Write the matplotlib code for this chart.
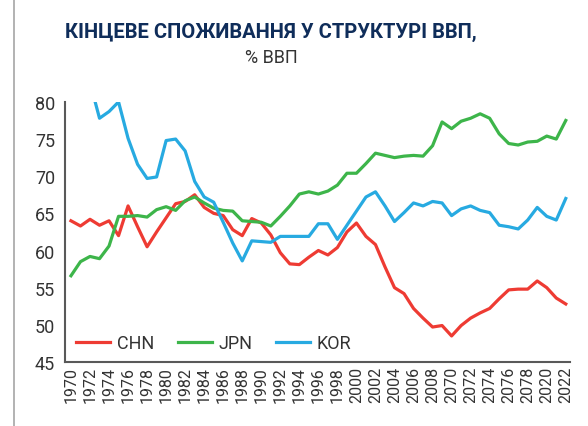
import numpy as np
import matplotlib
matplotlib.use("Agg")
import matplotlib.pyplot as plt
from matplotlib.lines import Line2D

plt.rcParams['font.family'] = ['Roboto', 'DejaVu Sans']

# data
years = np.arange(1970, 2023)

chn = [64.0, 63.3, 64.2, 63.4, 64.0, 62.0, 66.0, 63.2, 60.5, 62.5,
       64.4, 66.3, 66.6, 67.5, 65.8, 65.0, 64.7, 62.8, 62.0, 64.3,
       63.7, 62.1, 59.7, 58.2, 58.1, 59.1, 60.0, 59.4, 60.4, 62.5,
       63.7, 61.9, 60.8, 57.8, 55.0, 54.2, 52.2, 50.9, 49.7, 49.9,
       48.5, 49.9, 50.9, 51.6, 52.2, 53.5, 54.7, 54.8, 54.8, 55.9,
       55.0, 53.6, 52.8]

jpn = [56.6, 58.5, 59.2, 58.9, 60.6, 64.6, 64.6, 64.7, 64.5, 65.5,
       65.9, 65.4, 66.7, 67.2, 66.4, 65.7, 65.4, 65.3, 64.0, 63.9,
       63.8, 63.3, 64.6, 66.0, 67.6, 67.9, 67.6, 68.0, 68.8, 70.4,
       70.4, 71.7, 73.1, 72.8, 72.5, 72.7, 72.8, 72.7, 74.1, 77.3,
       76.4, 77.4, 77.8, 78.4, 77.8, 75.7, 74.4, 74.2, 74.6, 74.7,
       75.4, 75.0, 77.5]

kor = [np.nan, np.nan, 82.6, 77.8, 78.7, 80.0, 75.1, 71.6, 69.7, 69.9,
       74.8, 75.0, 73.4, 69.3, 67.2, 66.5, 63.8, 61.0, 58.6, 61.3,
       61.2, 61.1, 61.9, 61.9, 61.9, 61.9, 63.6, 63.6, 61.5, 63.4,
       65.3, 67.2, 67.9, 66.0, 63.9, 65.1, 66.4, 66.0, 66.6, 66.4,
       64.7, 65.6, 66.0, 65.4, 65.1, 63.4, 63.2, 62.9, 64.1, 65.8,
       64.6, 64.1, 67.0]

# tick labels as printed on the original (incl. its 20x0 typos)
tick_years = np.arange(1970, 2023, 2)
tick_labels = ['1970', '1972', '1974', '1976', '1978', '1980', '1982', '1984',
               '1986', '1988', '1990', '1992', '1994', '1996', '1998', '2000',
               '2002', '2004', '2006', '2008', '2070', '2072', '2074', '2076',
               '2078', '2020', '2022']

fig = plt.figure(figsize=(5.88, 4.27), dpi=100)
ax = fig.add_axes([0.1105, 0.150, 0.859, 0.609])

ax.plot(years, chn, color='#EE3B33', lw=2.3, label='CHN')
ax.plot(years, jpn, color='#3DB54A', lw=2.3, label='JPN')
ax.plot(years, kor, color='#27AAE1', lw=2.3, label='KOR')

ax.set_xlim(1969.37, 2022.45)
ax.set_ylim(45, 80)
ax.set_yticks([45, 50, 55, 60, 65, 70, 75, 80])
ax.set_xticks(tick_years)
ax.set_xticklabels(tick_labels, rotation=90)
ax.tick_params(axis='both', length=0, labelsize=13, colors='#333333')
ax.tick_params(axis='x', labelsize=11.5, pad=3)
ax.tick_params(axis='y', pad=7)

for s in ['top', 'right']:
    ax.spines[s].set_visible(False)
for s in ['left', 'bottom']:
    ax.spines[s].set_color('#595959')
    ax.spines[s].set_linewidth(1.5)

ax.legend(loc='lower left', bbox_to_anchor=(-0.01, -0.025), ncol=3, frameon=False,
          fontsize=13, handlelength=1.9, handletextpad=0.35, columnspacing=1.3,
          labelcolor='#333333')

fig.text(0.461, 0.924, 'КІНЦЕВЕ СПОЖИВАННЯ У СТРУКТУРІ ВВП,', ha='center', va='center',
         fontsize=14.5, fontweight='bold', color='#0F2D5A')
fig.text(0.461, 0.864, '% ВВП', ha='center', va='center', fontsize=13, color='#333333')

# thin frame line at the left edge
fig.add_artist(Line2D([0.023, 0.023], [0, 1], color='#A6A6A6', lw=1.2))

fig.savefig('out.png', dpi=100)
